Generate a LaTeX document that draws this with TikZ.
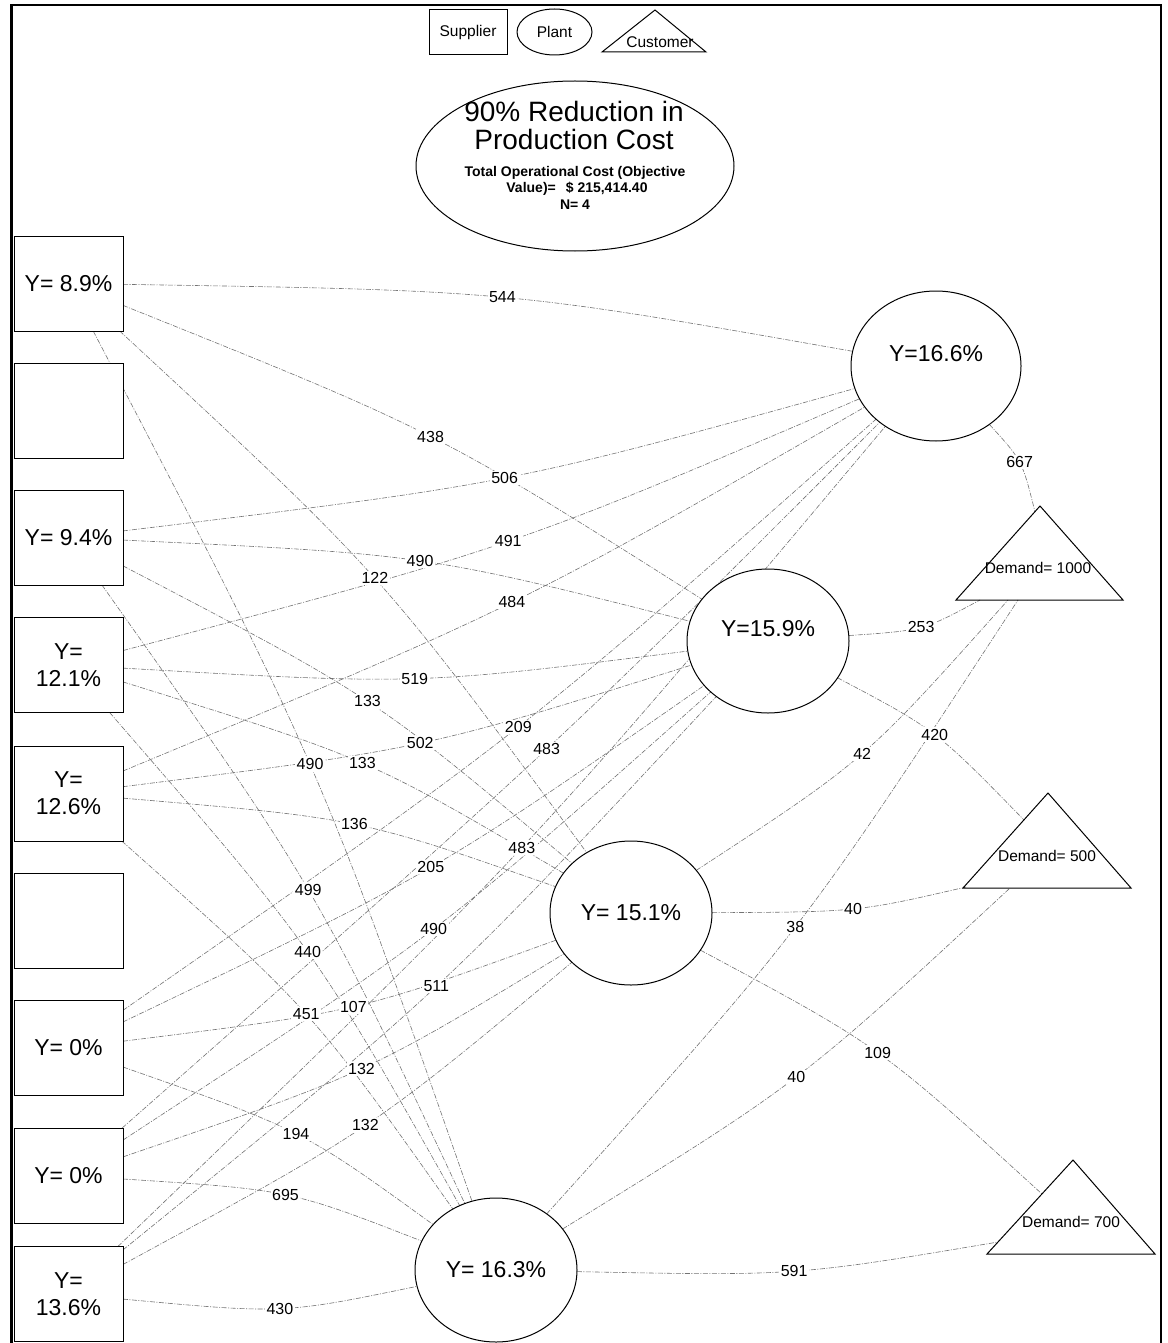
\documentclass[tikz,border=0pt]{standalone}
\usepackage{fontspec}
\setmainfont{Liberation Sans}
\usetikzlibrary{calc,shapes.geometric}

\pgfdeclarelayer{paper}
\pgfdeclarelayer{edges}
\pgfdeclarelayer{labels}
\pgfsetlayers{paper,edges,labels,main}

\newcommand\pts[1]{\fontsize{#1}{#1}\selectfont}

\tikzset{
  every node/.style={inner sep=0pt, outer sep=0pt},
  supplier/.style={draw, fill=white, line width=1pt, minimum width=109pt,
    minimum height=95pt, align=center, font=\fontsize{23}{27}\selectfont},
  plant/.style={draw, fill=white, ellipse, line width=1pt, minimum width=162pt,
    minimum height=144pt, font=\pts{23}},
  flow/.style={draw=black!55, line width=0.6pt,
    dash pattern=on 5pt off 1.5pt on 1pt off 1.5pt},
  qty/.style={fill=white, inner sep=1.5pt, font=\pts{16}},
  demand/.style={font=\pts{15.5}},
  customer/.style={line width=1pt, line join=miter},
  legendtext/.style={font=\pts{15.5}},
  headbig/.style={anchor=base, font=\pts{28}},
  headsmall/.style={anchor=base, font=\bfseries\pts{14}},
}

% flow from #1 to #2, curved so that its middle passes through #3,
% with the shipped quantity #5 written there (label named #4q)
\newcommand\flowlink[5]{%
  \begin{pgfonlayer}{edges}
    \draw[flow] (#1) .. controls ($1.33333*(#3) - 0.16667*(#1) - 0.16667*(#2)$) .. (#2)
      coordinate[pos=0.5] (#4);
  \end{pgfonlayer}
  \begin{pgfonlayer}{labels}
    \node[qty] (#4q) at (#4) {#5};
  \end{pgfonlayer}
}

\begin{document}
\begin{tikzpicture}[x=1pt, y=-1pt]
\begin{pgfonlayer}{paper}
  \fill[white] (0,0) rectangle (1167,1343);
\end{pgfonlayer}
\useasboundingbox (0,0) rectangle (1167,1343);

% outer frame
\draw[line width=3pt] (11.5,1343) -- (11.5,5);
\draw[line width=2.5pt] (10,5) -- (1162,5);
\draw[line width=2pt] (1161,4) -- (1161,1343);

% legend
\node[draw, line width=1pt, minimum width=78pt, minimum height=45pt, legendtext]
  (legsup) at (468,32.5) {Supplier};
\node[draw, ellipse, line width=1pt, minimum width=75pt, minimum height=46pt, legendtext]
  (legplant) at (554.5,32) {Plant};
\draw[customer] (655,10) -- (602,52) -- (706,52) -- cycle;
\node[legendtext] (legcust) at (660,42) {Customer};

% headline
\node[draw, ellipse, line width=1pt, minimum width=318pt, minimum height=170pt]
  (headline) at (575,166) {};
\node[headbig] (t1) at (574,122) {90\% Reduction in};
\node[headbig] (t2) at (574,150) {Production Cost};
\node[headsmall] (t3) at (575,177) {Total Operational Cost (Objective};
\node[headsmall] (t4) at (577,193) {Value)=\hspace{10pt}\$ 215,414.40};
\node[headsmall] (t5) at (575,209) {N= 4};

% suppliers
\node[supplier] (s1) at (68.5,283.5) {Y= 8.9\%};
\node[supplier] (s2) at (68.5,410.5) {};
\node[supplier] (s3) at (68.5,537.5) {Y= 9.4\%};
\node[supplier] (s4) at (68.5,665) {Y=\\12.1\%};
\node[supplier] (s5) at (68.5,793.5) {Y=\\12.6\%};
\node[supplier] (s6) at (68.5,920.5) {};
\node[supplier] (s7) at (68.5,1048) {Y= 0\%};
\node[supplier] (s8) at (68.5,1175.5) {Y= 0\%};
\node[supplier] (s9) at (68.5,1294) {Y=\\13.6\%};

% plants
\node[plant, minimum width=170pt, minimum height=150pt] (p1) at (936,366)
  {\raisebox{5pt}[0pt][0pt]{Y=16.6\%}};
\node[plant] (p2) at (768,641) {\raisebox{5pt}[0pt][0pt]{Y=15.9\%}};
\node[plant] (p3) at (631,913) {Y= 15.1\%};
\node[plant] (p4) at (496,1270) {Y= 16.3\%};

% customers
\draw[customer] (1040,506) -- (956,600) -- (1123,600) -- cycle;
\node[demand] (c1) at (1038,568) {Demand= 1000};
\draw[customer] (1048,793) -- (963,888) -- (1131,888) -- cycle;
\node[demand] (c2) at (1047,856) {Demand= 500};
\draw[customer] (1073,1160) -- (987,1254) -- (1155,1254) -- cycle;
\node[demand] (c3) at (1071,1222) {Demand= 700};

% connection points on the customer triangles
\coordinate (c1top) at (1035,512);
\coordinate (c1b1) at (980,600);
\coordinate (c1b2) at (1008,600);
\coordinate (c1b3) at (1018,600);
\coordinate (c2side) at (1024,820);
\coordinate (c2bl) at (966,887);
\coordinate (c2b) at (1010,888);
\coordinate (c3side) at (1042,1194);
\coordinate (c3low) at (998,1242);

% supplier -> plant 1
\flowlink{s1}{p1}{506,299}{a1}{544}
\flowlink{s3}{p1}{508,476}{a3}{506}
\flowlink{s4}{p1}{511,539}{a4}{491}
\flowlink{s5}{p1}{514,600}{a5}{484}
\flowlink{s7}{p1}{519,725}{a7}{209}
\flowlink{s8}{p1}{547,748}{a8}{483}
\flowlink{s9}{p1}{522,846}{a9}{483}
% supplier -> plant 2
\flowlink{s1}{p2}{432,439}{b1}{438}
\flowlink{s3}{p2}{423,563}{b3}{490}
\flowlink{s4}{p2}{418,677}{b4}{519}
\flowlink{s5}{p2}{423,741}{b5}{502}
\flowlink{s7}{p2}{432,865}{b7}{205}
\flowlink{s8}{p2}{434,927}{b8}{490}
\flowlink{s9}{p2}{436,985}{b9}{511}
% supplier -> plant 3
\flowlink{s1}{p3}{374,580}{d1}{122}
\flowlink{s3}{p3}{368,704}{d3}{133}
\flowlink{s4}{p3}{364,766}{d4}{133}
\flowlink{s5}{p3}{357,827}{d5}{136}
\flowlink{s7}{p3}{356,1004}{d7}{107}
\flowlink{s8}{p3}{363,1066}{d8}{132}
\flowlink{s9}{p3}{366,1123}{d9}{132}
% supplier -> plant 4
\flowlink{s1}{p4}{310,767}{f1}{490}
\flowlink{s3}{p4}{308,892}{f3}{499}
\flowlink{s4}{p4}{307,954}{f4}{440}
\flowlink{s5}{p4}{305,1016}{f5}{451}
\flowlink{s7}{p4}{297,1137}{f7}{194}
\flowlink{s8}{p4}{288,1198}{f8}{695}
\flowlink{s9}{p4}{283,1306}{f9}{430}

% plant -> customer
\flowlink{p1}{c1top}{1013,455}{g1}{667}
\flowlink{p2}{c1b1}{911,628}{g2}{253}
\flowlink{p2}{c2side}{926,730}{g3}{420}
\flowlink{p3}{c1b2}{854,759}{g4}{42}
\flowlink{p3}{c2bl}{843,909}{g5}{40}
\flowlink{p3}{c3side}{869,1048}{g6}{109}
\flowlink{p4}{c1b3}{789,934}{g7}{38}
\flowlink{p4}{c2b}{788,1082}{g8}{40}
\flowlink{p4}{c3low}{784,1271}{g9}{591}

\end{tikzpicture}
\end{document}
